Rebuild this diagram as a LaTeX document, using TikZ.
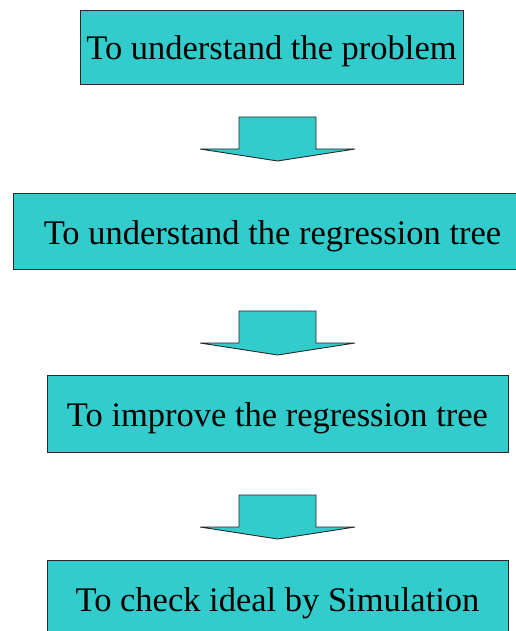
\documentclass[tikz,border=0pt]{standalone}
\usepackage{fontspec}
\setmainfont{Liberation Serif}
\definecolor{boxfill}{RGB}{51,204,204}
\definecolor{boxline}{RGB}{40,40,40}
\tikzset{
  stepbox/.style={draw=boxline, line width=0.9pt, fill=boxfill, inner sep=0pt,
    text height=33.6pt, text depth=7.6pt,
    font=\fontsize{34.5}{40}\selectfont},
  flowarrow/.style={draw=boxline, line width=0.9pt, fill=boxfill, line join=miter},
  downarrow/.pic={
    \path[flowarrow] (-38.5,0) -- (38.5,0) -- (38.5,32) -- (77.5,32) -- (0,44)
      -- (-77.5,32) -- (-38.5,32) -- cycle;
  }
}
\begin{document}
\begin{tikzpicture}[x=1pt,y=-1pt]
  \useasboundingbox (0,0) rectangle (516,631);
  \clip (0,0) rectangle (516,631);
  % process steps
  \node[stepbox, minimum width=383pt, minimum height=74pt] (b1) at (271.5,47) {To understand the problem};
  \node[stepbox, minimum width=519pt, minimum height=76pt] (b2) at (272.5,231) {To understand the regression tree};
  \node[stepbox, minimum width=461pt, minimum height=77pt] (b3) at (277.5,413.5) {To improve the regression tree};
  \node[stepbox, minimum width=461pt, minimum height=77pt] (b4) at (277.5,598.5) {To check ideal by Simulation};
  % block arrows between the steps
  \coordinate (a1) at (277.5,117);
  \coordinate (a2) at (277.5,311);
  \coordinate (a3) at (277.5,495);
  \pic at (a1) {downarrow};
  \pic at (a2) {downarrow};
  \pic at (a3) {downarrow};
\end{tikzpicture}
\end{document}
